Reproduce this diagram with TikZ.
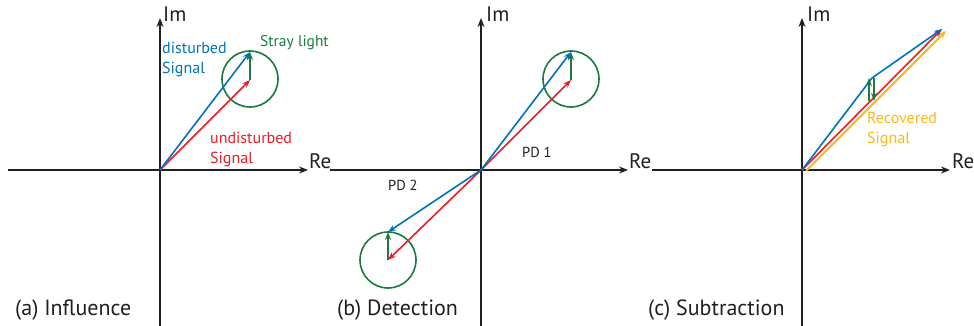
\documentclass[tikz,border=0pt]{standalone}
\usepackage{fontspec}
\setmainfont{PT Sans}
\usetikzlibrary{arrows.meta}
\definecolor{ink}{HTML}{231F20}
\definecolor{sigblue}{HTML}{0072BC}
\definecolor{sigred}{HTML}{ED1C24}
\definecolor{stray}{HTML}{1B7A3E}
\definecolor{recov}{HTML}{FDB913}

\begin{document}
\begin{tikzpicture}[x=1pt,y=-1pt,
  axis/.style={draw=ink,line width=1.8pt,-{Stealth[length=9pt,width=7pt]}},
  vec/.style={line width=1.6pt,-{Stealth[length=8pt,width=6pt]}},
  ring/.style={draw=stray,line width=1.6pt,circle,minimum size=56pt,inner sep=0pt},
  axlabel/.style={font=\fontsize{21}{21}\selectfont,text=ink,inner sep=0pt,anchor=base west},
  lab/.style={font=\fontsize{16}{19.5}\selectfont,align=left,inner sep=0pt,anchor=north west},
  small/.style={font=\fontsize{14.5}{14.5}\selectfont,text=ink,inner sep=0pt,anchor=north west},
  caption/.style={font=\fontsize{22}{22}\selectfont,text=ink,inner sep=0pt,anchor=base west}]
  \useasboundingbox (0,0) rectangle (974,326);
  % panel (a)
  \coordinate (oa) at (160,170);
  \coordinate (xa0) at (8,170);   \coordinate (xa1) at (308,170);
  \coordinate (ya0) at (160,326); \coordinate (ya1) at (160,18);
  \coordinate (ua) at (250,80);   \coordinate (da) at (250,52);
  \node[ring] (ra) at (250,79) {};
  \draw[axis] (xa0) -- (xa1);
  \draw[axis] (ya0) -- (ya1);
  \node[axlabel] (rea) at (309,168) {Re};
  \node[axlabel] (ima) at (163,22) {Im};
  \draw[vec,sigred] (oa) -- (ua);
  \draw[vec,stray] (ua) -- (da);
  \draw[vec,sigblue] (oa) -- (da);
  \node[lab,text=sigblue] (dsa) at (162,42) {disturbed\\Signal};
  \node[lab,text=stray,font=\fontsize{15.5}{15.5}\selectfont] (sla) at (260,35) {Stray light};
  \node[lab,text=sigred] (usa) at (210,132) {undisturbed\\Signal};
  \node[caption] (capa) at (15,315) {(a) Influence};
  % panel (b)
  \coordinate (ob) at (481,170);
  \coordinate (xb0) at (330,170); \coordinate (xb1) at (628,170);
  \coordinate (yb0) at (481,326); \coordinate (yb1) at (481,18);
  \coordinate (ub) at (571,80);   \coordinate (db) at (571,52);
  \coordinate (ul) at (388,260);  \coordinate (dl) at (388,232);
  \node[ring] (rb) at (571,79) {};
  \node[ring] (rl) at (388,260) {};
  \draw[axis] (xb0) -- (xb1);
  \draw[axis] (yb0) -- (yb1);
  \node[axlabel] (reb) at (629,168) {Re};
  \node[axlabel] (imb) at (486,22) {Im};
  \draw[vec,sigred] (ob) -- (ub);
  \draw[vec,stray] (ub) -- (db);
  \draw[vec,sigblue] (ob) -- (db);
  \draw[vec,sigred] (ob) -- (ul);
  \draw[vec,stray] (ul) -- (dl);
  \draw[vec,sigblue] (ob) -- (dl);
  \node[small] (pd1) at (522,147) {PD 1};
  \node[small] (pd2) at (388,180) {PD 2};
  \node[caption] (capb) at (337,315) {(b) Detection};
  % panel (c)
  \coordinate (oc) at (802,170);
  \coordinate (xc0) at (652,170); \coordinate (xc1) at (950,170);
  \coordinate (yc0) at (802,326); \coordinate (yc1) at (802,18);
  \coordinate (kc) at (872,78);   \coordinate (tc) at (942,29);
  \coordinate (gu0) at (869,101); \coordinate (gu1) at (869,78);
  \coordinate (gd0) at (874,78);  \coordinate (gd1) at (874,101);
  \coordinate (yo0) at (806,171); \coordinate (yo1) at (946,31);
  \draw[axis] (xc0) -- (xc1);
  \draw[axis] (yc0) -- (yc1);
  \node[axlabel] (rec) at (952,168) {Re};
  \node[axlabel] (imc) at (807,22) {Im};
  \draw[vec,recov,line width=2pt] (yo0) -- (yo1);
  \draw[vec,sigred] (oc) -- (tc);
  \draw[line width=1.6pt,sigblue] (oc) -- (kc);
  \draw[vec,sigblue] (kc) -- (tc);
  \draw[vec,stray,line width=1.3pt] (gu0) -- (gu1);
  \draw[vec,stray,line width=1.3pt] (gd0) -- (gd1);
  \node[lab,text=recov] (rsc) at (867,112) {Recovered\\Signal};
  \node[caption] (capc) at (648,315) {(c) Subtraction};
\end{tikzpicture}
\end{document}
